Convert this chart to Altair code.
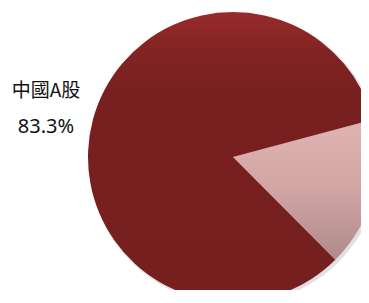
import altair as alt
import pandas as pd

categories = ["其他", "中國A股"]
shares = [16.7, 83.3]
order = [0, 1]

df = pd.DataFrame({"cat": categories, "share": shares, "ord": order})

START = 1.309  # ~75 degrees clockwise from 12 o'clock
TWO_PI = 6.283185307
theta_scale = alt.Scale(domain=[0, 100], range=[START, START + TWO_PI])

CX, CY, R = 225, 149, 145

base = alt.Chart(df).transform_stack(
    stack="share", groupby=[], as_=["s0", "s1"], sort=[alt.SortField("ord")]
)

shadow = base.mark_arc(color="#000000", opacity=0.12, radius=R + 1).encode(
    theta=alt.Theta("s0:Q", scale=theta_scale),
    theta2="s1:Q",
    x=alt.value(CX + 2),
    y=alt.value(CY + 2),
)

dark_fill = alt.Gradient(
    gradient="linear",
    stops=[
        alt.GradientStop(color="#982b2b", offset=0),
        alt.GradientStop(color="#842423", offset=0.12),
        alt.GradientStop(color="#782020", offset=0.28),
        alt.GradientStop(color="#751f1e", offset=1),
    ],
    x1=0, x2=0, y1=0, y2=1,
)
light_fill = alt.Gradient(
    gradient="linear",
    stops=[
        alt.GradientStop(color="#e1b4b4", offset=0),
        alt.GradientStop(color="#d2a5a5", offset=0.5),
        alt.GradientStop(color="#af8a89", offset=1),
    ],
    x1=0, x2=0, y1=0, y2=1,
)

light = base.transform_filter(alt.datum.ord == 0).mark_arc(
    color=light_fill, radius=R
).encode(
    theta=alt.Theta("s0:Q", scale=theta_scale),
    theta2="s1:Q",
    x=alt.value(CX),
    y=alt.value(CY),
)

dark = base.transform_filter(alt.datum.ord == 1).mark_arc(
    color=dark_fill, radius=R
).encode(
    theta=alt.Theta("s0:Q", scale=theta_scale),
    theta2="s1:Q",
    x=alt.value(CX),
    y=alt.value(CY),
)

label_base = alt.Chart(df).transform_filter(alt.datum.ord == 1).transform_calculate(
    pct=alt.expr.format(alt.datum.share, ".1f") + "%"
)

name_text = label_base.mark_text(
    font="Noto Sans CJK TC", fontSize=19, color="#111111", align="center", baseline="middle"
).encode(text="cat:N", x=alt.value(38), y=alt.value(83))

pct_text = label_base.mark_text(
    font="Noto Sans", fontSize=20, color="#111111", align="center", baseline="middle"
).encode(text="pct:N", x=alt.value(38), y=alt.value(119))

chart = alt.layer(shadow, light, dark, name_text, pct_text).properties(
    width=353, height=282, padding=0, autosize=alt.AutoSizeParams(type="none")
).configure_view(stroke=None)

chart.save("out.html", embed_options={"renderer": "svg", "actions": False})
